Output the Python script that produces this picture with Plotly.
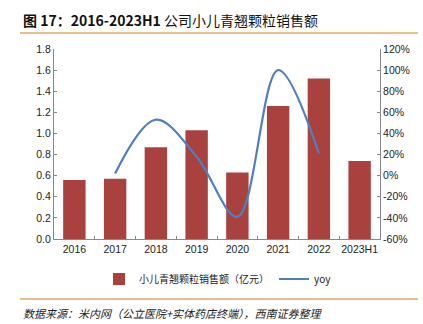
import plotly.graph_objects as go

categories = ["2016", "2017", "2018", "2019", "2020", "2021", "2022", "2023H1"]
sales = [0.56, 0.57, 0.87, 1.03, 0.63, 1.26, 1.52, 0.74]
yoy_cats = ["2017", "2018", "2019", "2020", "2021", "2022"]
yoy = [2, 53, 18, -39, 100, 21]

left_ticks = [0.0, 0.2, 0.4, 0.6, 0.8, 1.0, 1.2, 1.4, 1.6, 1.8]
right_ticks = [-60, -40, -20, 0, 20, 40, 60, 80, 100, 120]

W, H = 423, 324
L, R, T, B = 54, 43, 49, 85
pw, ph = W - L - R, H - T - B

def px(x):
    return (x - L) / pw

def py(y):
    return (H - B - y) / ph

fig = go.Figure()
fig.add_trace(go.Bar(
    x=categories, y=sales, name="小儿青翘颗粒销售额（亿元）",
    marker=dict(color="#A9423F", line=dict(width=0)), yaxis="y",
))
fig.add_trace(go.Scatter(
    x=yoy_cats, y=yoy, name="yoy", mode="lines", yaxis="y2",
    line=dict(color="#4F7FBF", width=2.2, shape="spline", smoothing=1.0),
))

axis_font = dict(family="Liberation Sans, Arial", size=10.5, color="#222")
fig.update_layout(
    width=W, height=H,
    margin=dict(l=L, r=R, t=T, b=B),
    paper_bgcolor="white", plot_bgcolor="white",
    bargap=0.45,
    showlegend=True,
    legend=dict(orientation="h", x=px(218), y=py(279), xanchor="center", yanchor="middle",
                font=dict(family="Noto Sans CJK SC, Liberation Sans", size=10, color="#222"),
                itemwidth=30, tracegroupgap=0),
    xaxis=dict(type="category", categoryorder="array", categoryarray=categories,
               showline=True, linecolor="#888", linewidth=1, tickangle=0,
               ticks="inside", ticklen=3, tickcolor="#888", tickson="boundaries",
               tickfont=axis_font, showgrid=False, zeroline=False),
    yaxis=dict(range=[0, 1.8], tickvals=left_ticks, ticktext=[f"{v:.1f}" for v in left_ticks],
               showline=True, linecolor="#888", linewidth=1,
               ticks="inside", ticklen=3, tickcolor="#888",
               tickfont=axis_font, showgrid=False, zeroline=False),
    yaxis2=dict(range=[-60, 120], tickvals=right_ticks, ticktext=[f"{v}%" for v in right_ticks],
                overlaying="y", side="right",
                showline=True, linecolor="#888", linewidth=1,
                ticks="inside", ticklen=3, tickcolor="#888",
                tickfont=axis_font, showgrid=False, zeroline=False),
)

fig.add_annotation(
    text="<b>图 17：2016-2023H1</b> 公司小儿青翘颗粒销售额",
    xref="paper", yref="paper", x=px(21), y=py(20), xanchor="left", yanchor="middle",
    showarrow=False, font=dict(family="Noto Sans CJK SC, Liberation Sans", size=14, color="#111"),
)
fig.add_shape(type="line", xref="paper", yref="paper", x0=px(20), x1=px(418), y0=py(33), y1=py(33),
              line=dict(color="#E0A965", width=1.5))
fig.add_shape(type="line", xref="paper", yref="paper", x0=px(20), x1=px(418), y0=py(299), y1=py(299),
              line=dict(color="#E0A965", width=1.5))
fig.add_annotation(
    text="<i>数据来源：米内网（公立医院+实体药店终端），西南证券整理</i>",
    xref="paper", yref="paper", x=px(21), y=py(313), xanchor="left", yanchor="middle",
    showarrow=False, font=dict(family="Noto Sans CJK SC", size=11, color="#222"),
)

fig.write_html("out.html")
